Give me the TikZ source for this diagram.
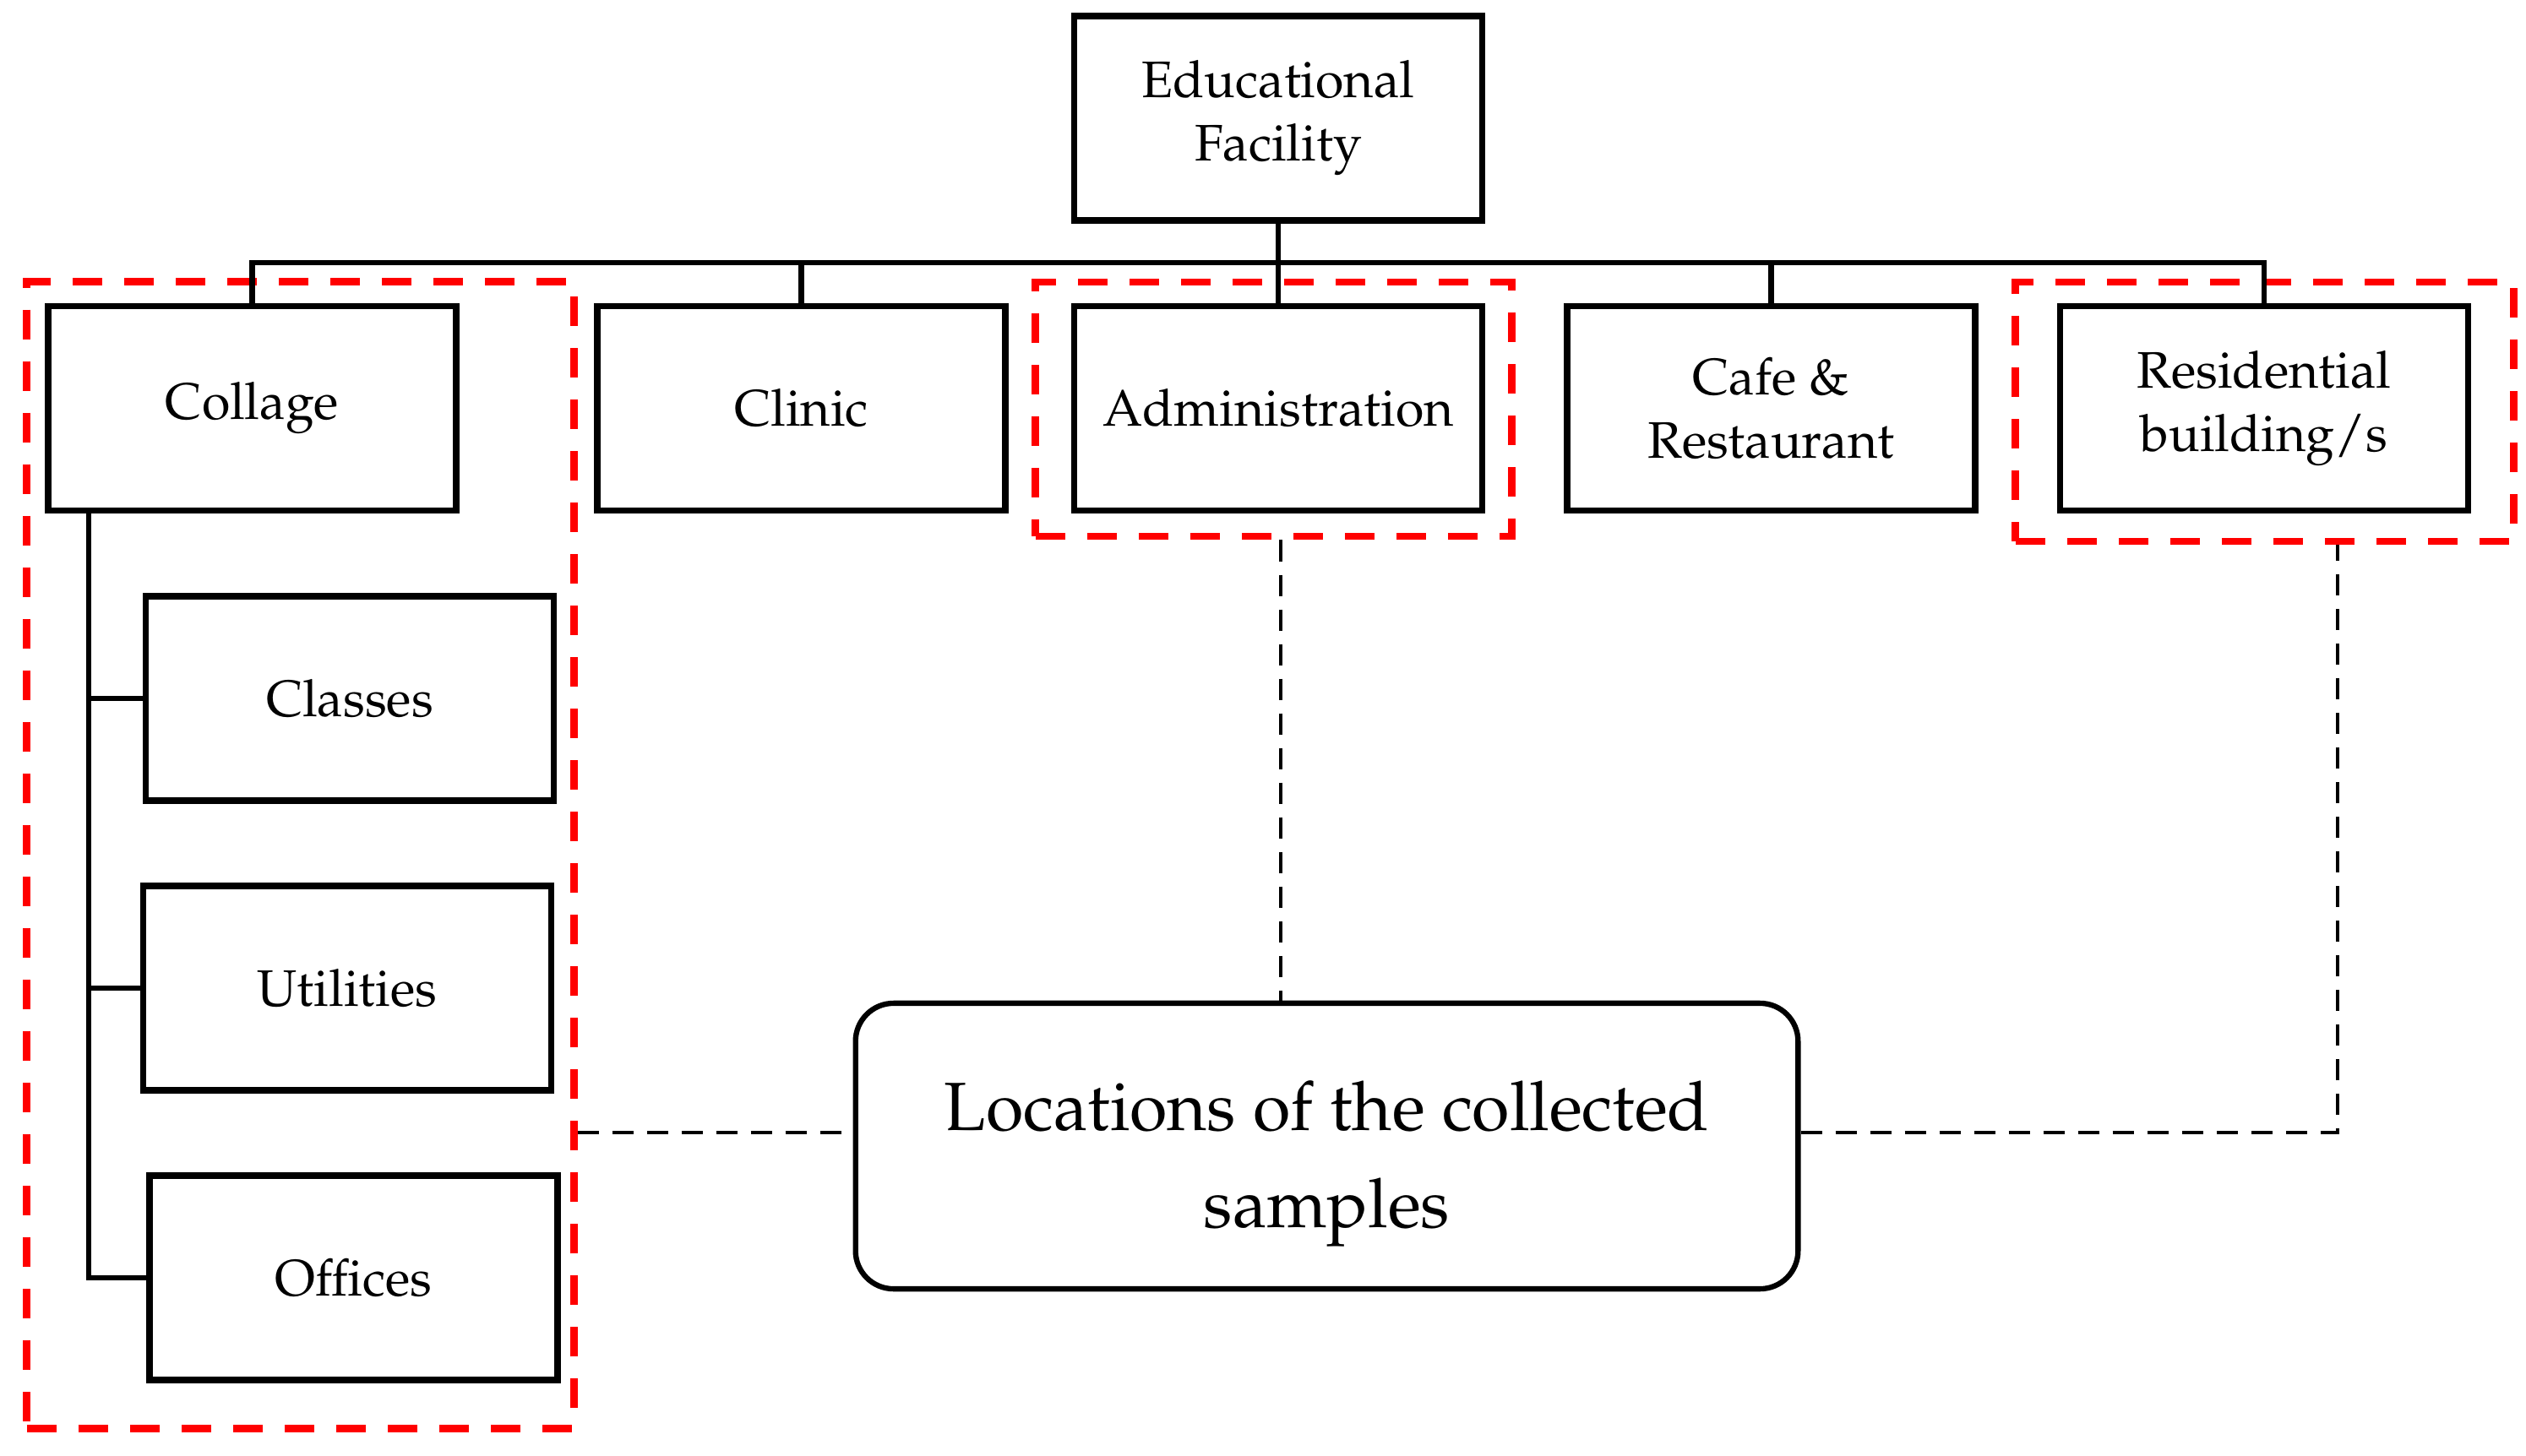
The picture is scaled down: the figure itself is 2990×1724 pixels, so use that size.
\documentclass[tikz,border=0pt]{standalone}
\usepackage[T1]{fontenc}
\renewcommand{\rmdefault}{ppl}
\usetikzlibrary{positioning}
\begin{document}
\begin{tikzpicture}[x=0.01cm,y=-0.01cm,
  box/.style={draw=black,line width=2.1pt,rectangle,align=center,inner sep=0pt,
    minimum width=4.83cm,minimum height=2.42cm,font=\fontsize{17.3}{21.3}\selectfont},
  conn/.style={draw=black,line width=1.8pt},
  grp/.style={draw=red,line width=2.5pt,dash pattern=on 0.35cm off 0.26cm,inner sep=0pt},
  dconn/.style={draw=black,line width=1.4pt,dash pattern=on 0.25cm off 0.16cm},
  locbox/.style={draw=black,line width=1.8pt,rounded corners=0.45cm,
    minimum width=11.15cm,minimum height=3.38cm},
  loctext/.style={align=center,inner sep=0pt,font=\fontsize{23}{32.5}\selectfont}]
\useasboundingbox (0,0) rectangle (2990,1724);
% red groups
\node[grp,minimum width=6.47cm,minimum height=13.57cm] (gC) at (355.5,1012.5) {};
\node[grp,minimum width=5.63cm,minimum height=3.01cm] (gA) at (1507.5,484.5) {};
\node[grp,minimum width=5.89cm,minimum height=3.07cm] (gR) at (2680.5,487.5) {};
% boxes
\node[box] (root) at (1513,140) {Educational\\Facility};
\node[box] (col) at (298.5,483.5) {Collage};
\node[box] (cli) at (948.5,483.5) {Clinic};
\node[box] (adm) at (1513,483.5) {Administration};
\node[box] (caf) at (2096.5,483.5) {Cafe \&\\Restaurant};
\node[box] (res) at (2680,483.5) {Residential\\building/s};
\node[box] (cls) at (414,827) {Classes};
\node[box] (uti) at (411,1170) {Utilities};
\node[box] (off) at (418.5,1513) {Offices};
\node[locbox] (loc) at (1570.5,1357) {};
\node[loctext] (loct) at (1570.5,1378) {Locations of the collected\\samples};
% tree connectors
\coordinate (bus) at (0,311);
\draw[conn] (root.south) -- (root.south |- bus);
\draw[conn] (col.north) -- (col.north |- bus) -- (res.north |- bus) -- (res.north);
\draw[conn] (cli.north) -- (cli.north |- bus);
\draw[conn] (adm.north) -- (adm.north |- bus);
\draw[conn] (caf.north) -- (caf.north |- bus);
\coordinate (trunk) at (105,0);
\draw[conn] (col.south -| trunk) -- (off.west -| trunk) -- (off.west);
\draw[conn] (cls.west -| trunk) -- (cls.west);
\draw[conn] (uti.west -| trunk) -- (uti.west);
% dashed connectors
\coordinate (dl) at (0,1341);
\coordinate (rx) at (2767,0);
\draw[dconn] (gA.south -| 1516,0) -- (loc.north -| 1516,0);
\draw[dconn] (gC.east |- dl) -- (loc.west |- dl);
\draw[dconn] (loc.east |- dl) -- (rx |- dl) -- (rx |- gR.south);
\end{tikzpicture}
\end{document}
